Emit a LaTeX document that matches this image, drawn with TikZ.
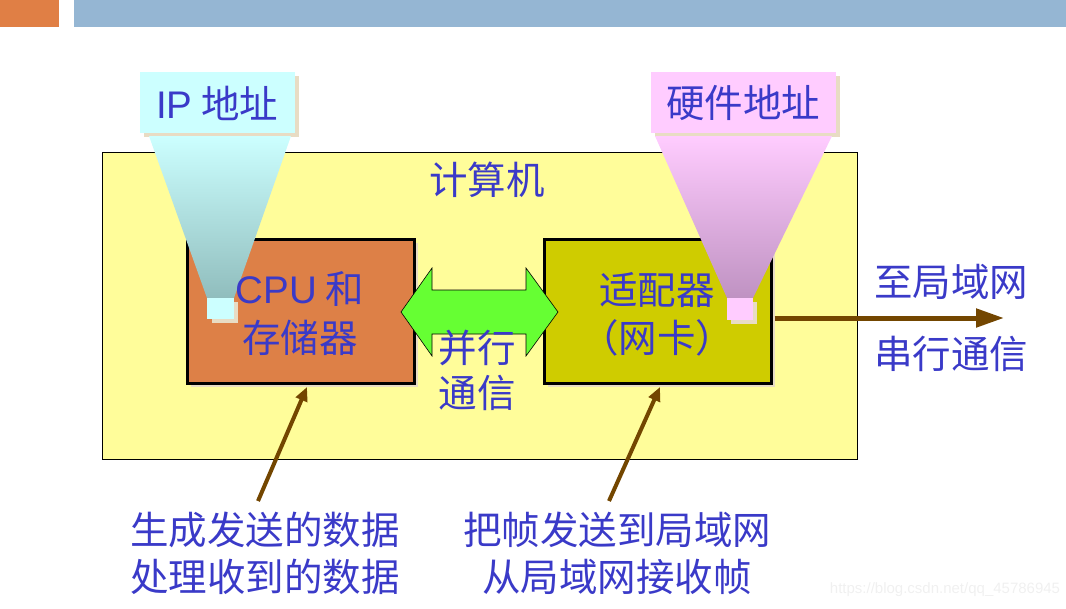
\documentclass[tikz,border=0pt]{standalone}
\usepackage{fontspec}
\newfontfamily\cjk{Noto Sans CJK SC}
\newfontfamily\lat{Liberation Sans}
\usetikzlibrary{arrows.meta}
\definecolor{txtblue}{HTML}{3A3AC8}
\definecolor{barorange}{HTML}{E07F45}
\definecolor{barblue}{HTML}{95B6D3}
\definecolor{pcyellow}{HTML}{FFFD9A}
\definecolor{cpuorange}{HTML}{DD8047}
\definecolor{adapolive}{HTML}{CFCC00}
\definecolor{shadowbeige}{HTML}{E8DCC4}
\definecolor{ipcyan}{HTML}{CCFFFF}
\definecolor{ipcyandark}{HTML}{90BDBD}
\definecolor{hwpink}{HTML}{FFCCFF}
\definecolor{hwpinkdark}{HTML}{BF92C2}
\definecolor{arrgreen}{HTML}{66FF33}
\definecolor{arrbrown}{HTML}{734600}
\tikzset{
  lbl/.style={text=txtblue, font=\cjk\fontsize{38.5}{42}\selectfont, inner sep=0pt, anchor=center},
  hwbox/.style={draw=black, line width=3pt, inner sep=0pt},
  tagbox/.style={inner sep=0pt},
  brownarrow/.style={draw=arrbrown, line width=5pt, -{Triangle[length=28pt,width=18pt]}},
  pointarrow/.style={draw=arrbrown, line width=4pt, -{Triangle[length=14pt,width=12pt]}},
}
\begin{document}
\begin{tikzpicture}[x=1pt,y=-1pt]
\useasboundingbox (0,0) rectangle (1066,608);
% top bars
\fill[barorange] (0,0) rectangle (59,27);
\fill[barblue] (74,0) rectangle (1066,27);
% computer box
\node[draw=black, line width=0.8pt, fill=pcyellow, minimum width=755pt, minimum height=307pt, inner sep=0pt] (pc) at (479.5,305.5) {};
\node[lbl] (pclbl) at (487,180) {计算机};
% shadows
\fill[shadowbeige] (191,243) rectangle (418,387);
\fill[shadowbeige] (548,243) rectangle (775,387);
\fill[shadowbeige] (144,76) rectangle (299,137);
\fill[shadowbeige] (655,76) rectangle (840,137);
% CPU and adapter boxes
\node[hwbox, fill=cpuorange, minimum width=227pt, minimum height=144pt] (cpu) at (300.5,311) {};
\node[hwbox, fill=adapolive, minimum width=227pt, minimum height=144pt] (nic) at (657.5,311) {};
% tag boxes
\node[tagbox, fill=ipcyan, minimum width=155pt, minimum height=61pt] (iptag) at (217.5,102.5) {};
\node[tagbox, fill=hwpink, minimum width=185pt, minimum height=61pt] (hwtag) at (743.5,102.5) {};
% cones
\shade[top color=ipcyan, bottom color=ipcyandark] (149,136) -- (291,136) -- (234,298) -- (207,298) -- cycle;
\shade[top color=hwpink, bottom color=hwpinkdark] (655,136) -- (832,136) -- (753,298) -- (727,298) -- cycle;
% small squares
\fill[shadowbeige] (212,302) rectangle (238,323);
\fill[ipcyan] (207,298) rectangle (234,319);
\fill[shadowbeige] (731,302) rectangle (757,324);
\fill[hwpink] (727,298) rectangle (753,320);
% green double arrow
\filldraw[fill=arrgreen, draw=black, line width=0.6pt]
  (401,312) -- (432,268) -- (432,290) -- (526,290) -- (526,268) -- (558,312)
  -- (526,356) -- (526,334) -- (432,334) -- (432,356) -- cycle;
% labels
\node[lbl] (iplbl) at (217,103) {{\lat IP} 地址};
\node[lbl] (hwlbl) at (743,103) {硬件地址};
\node[lbl] (cpu1) at (300,289) {{\lat CPU} 和};
\node[lbl] (cpu2) at (300,338) {存储器};
\node[lbl] (nic1) at (657,290) {适配器};
\node[lbl] (nic2) at (657,338) {（网卡）};
\node[lbl] (par1) at (477,348) {并行};
\node[lbl] (par2) at (477,393) {通信};
\node[lbl] (lan1) at (951,282) {至局域网};
\node[lbl] (lan2) at (951,354) {串行通信};
\node[lbl] (send1) at (265,530) {生成发送的数据};
\node[lbl] (send2) at (265,577) {处理收到的数据};
\node[lbl] (frm1) at (617,530) {把帧发送到局域网};
\node[lbl] (frm2) at (617,577) {从局域网接收帧};
\node[text=black!6, font=\lat\fontsize{15}{17}\selectfont, inner sep=0pt] (wm) at (945,590) {https://blog.csdn.net/qq\_45786945};
% connectors
\coordinate (lanend) at (1004,318);
\coordinate (cputip) at (307,387);
\coordinate (nictip) at (660,387);
\coordinate (sendstart) at (258,501);
\coordinate (frmstart) at (609,501);
\draw[brownarrow] (nic.east |- lanend) ++(2pt,0) -- (lanend);
\draw[pointarrow] (sendstart) -- (cputip);
\draw[pointarrow] (frmstart) -- (nictip);
\end{tikzpicture}
\end{document}
